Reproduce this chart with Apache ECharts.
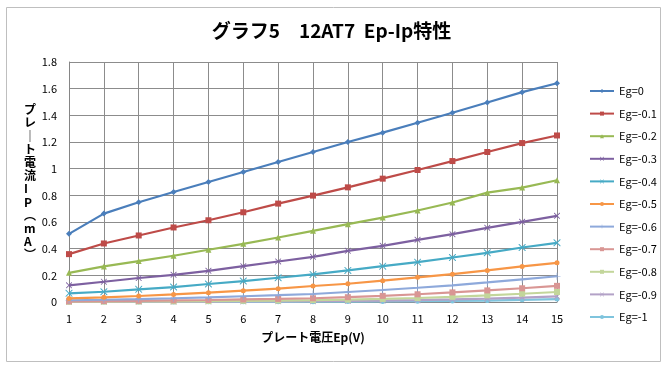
<!DOCTYPE html>
<html><head><meta charset="utf-8">
<script src="https://cdn.jsdelivr.net/npm/echarts@6/dist/echarts.min.js"></script>
<style>html,body{margin:0;padding:0;background:#fff}#c{width:663px;height:367px}</style>
</head><body><div id="c"></div>
<script>
const categories = ['1','2','3','4','5','6','7','8','9','10','11','12','13','14','15'];
const seriesNames = ['Eg=0','Eg=-0.1','Eg=-0.2','Eg=-0.3','Eg=-0.4','Eg=-0.5','Eg=-0.6','Eg=-0.7','Eg=-0.8','Eg=-0.9','Eg=-1'];
const eg0   = [0.511,0.663,0.748,0.825,0.900,0.975,1.050,1.125,1.200,1.270,1.344,1.419,1.496,1.574,1.641];
const eg01  = [0.359,0.439,0.499,0.559,0.613,0.673,0.738,0.798,0.860,0.925,0.990,1.057,1.125,1.192,1.249];
const eg02  = [0.219,0.267,0.307,0.347,0.392,0.436,0.484,0.534,0.584,0.633,0.686,0.746,0.820,0.858,0.913];
const eg03  = [0.125,0.152,0.180,0.204,0.234,0.269,0.304,0.339,0.384,0.421,0.466,0.509,0.556,0.601,0.646];
const eg04  = [0.065,0.077,0.095,0.112,0.135,0.157,0.182,0.207,0.237,0.269,0.299,0.334,0.369,0.409,0.444];
const eg05  = [0.027,0.035,0.045,0.057,0.070,0.085,0.100,0.120,0.137,0.160,0.185,0.209,0.237,0.267,0.294];
const eg06  = [0.013,0.017,0.022,0.028,0.035,0.043,0.051,0.060,0.075,0.090,0.107,0.125,0.147,0.170,0.193];
const eg07  = [0.005,0.007,0.009,0.012,0.015,0.019,0.023,0.028,0.036,0.046,0.058,0.072,0.087,0.103,0.121];
const eg08  = [0.002,0.003,0.004,0.005,0.007,0.009,0.011,0.014,0.018,0.023,0.030,0.039,0.050,0.062,0.075];
const eg09  = [0.001,0.001,0.002,0.002,0.003,0.004,0.005,0.006,0.008,0.011,0.014,0.019,0.025,0.033,0.042];
const eg10  = [0.000,0.000,0.000,0.000,0.001,0.001,0.001,0.002,0.003,0.004,0.006,0.008,0.011,0.016,0.022];
const yTicks = [0,0.2,0.4,0.6,0.8,1,1.2,1.4,1.6,1.8];

const allData = [eg0,eg01,eg02,eg03,eg04,eg05,eg06,eg07,eg08,eg09,eg10];
const colors = ['#4A7EBB','#BE4B48','#98B954','#7D60A0','#46AAC5','#F79646','#8EA9DB','#D99694','#C3D69B','#B3A2C7','#7FC4DD'];
const XP = 'path://M0,0L2,0L10,8L18,0L20,0L20,2L12,10L20,18L20,20L18,20L10,12L2,20L0,20L0,18L8,10L0,2Z';
const symbols = ['diamond','rect','triangle', XP, XP, 'circle',
  'path://M9,0L11,0L11,9L20,9L20,11L11,11L11,20L9,20L9,11L0,11L0,9L9,9Z',
  'path://M0,9L20,9L20,11L0,11Z','path://M0,9L20,9L20,11L0,11Z', XP, 'circle'];
const sizes = [6,6,6,6,7,5,7,6,6,6,5];

const font = '"Noto Sans CJK JP","Noto Sans",sans-serif';
const chart = echarts.init(document.getElementById('c'), null, {renderer:'canvas'});
chart.setOption({
  backgroundColor:'#fff',
  animation:false,
  title:{text:'グラフ5　12AT7  Ep-Ip特性', left:'center', top:16,
    textStyle:{fontFamily:font, fontSize:19, fontWeight:'bold', color:'#000'}},
  grid:{left:69, right:106, top:62, bottom:65},
  legend:{orient:'vertical', left:584, top:79, itemWidth:24, itemHeight:5, itemGap:8.6,
    data:seriesNames, textStyle:{fontFamily:font, fontSize:11, color:'#000', lineHeight:14}},
  xAxis:{type:'category', data:categories, boundaryGap:false,
    name:'プレート電圧Ep(V)', nameLocation:'middle', nameGap:29,
    nameTextStyle:{fontFamily:font, fontSize:12, fontWeight:'bold', color:'#000'},
    axisLine:{lineStyle:{color:'#868686'}}, axisTick:{show:false},
    axisLabel:{color:'#000', fontFamily:font, fontSize:11, margin:11},
    splitLine:{show:true, lineStyle:{color:'#8c8c8c', width:1}}},
  yAxis:{type:'value', min:0, max:1.8, interval:0.2,
    axisLine:{show:true, lineStyle:{color:'#868686'}}, axisTick:{show:false},
    axisLabel:{color:'#000', fontFamily:font, fontSize:11, margin:12,
      formatter:v=>String(Math.round(v*10)/10)},
    splitLine:{show:true, lineStyle:{color:'#8c8c8c', width:1}}},
  graphic:[
    {type:'rect', shape:{x:6.5,y:7.5,width:654,height:354}, style:{fill:'none', stroke:'#bfbfbf', lineWidth:1}, z:-1},
    {type:'line', shape:{x1:557.5,y1:62,x2:557.5,y2:302}, style:{stroke:'#8c8c8c', lineWidth:1}},
    {type:'text', left:24, top:103, style:{text:'プ\nレ\n｜\nト\n電\n流\nI\nP\n︵\nm\nA\n︶',
      fontFamily:font, fontSize:12, fontWeight:'bold', lineHeight:13.2, fill:'#000', align:'center'}}
  ],
  series: allData.map((d,i)=>({
    name:seriesNames[i], type:'line', data:d, color:colors[i],
    symbol:symbols[i], symbolSize:sizes[i], showSymbol:true,
    lineStyle:{width:2.2, color:colors[i]}, itemStyle:{color:colors[i], borderWidth:0},
    z: 20 - i
  }))
});
</script></body></html>
